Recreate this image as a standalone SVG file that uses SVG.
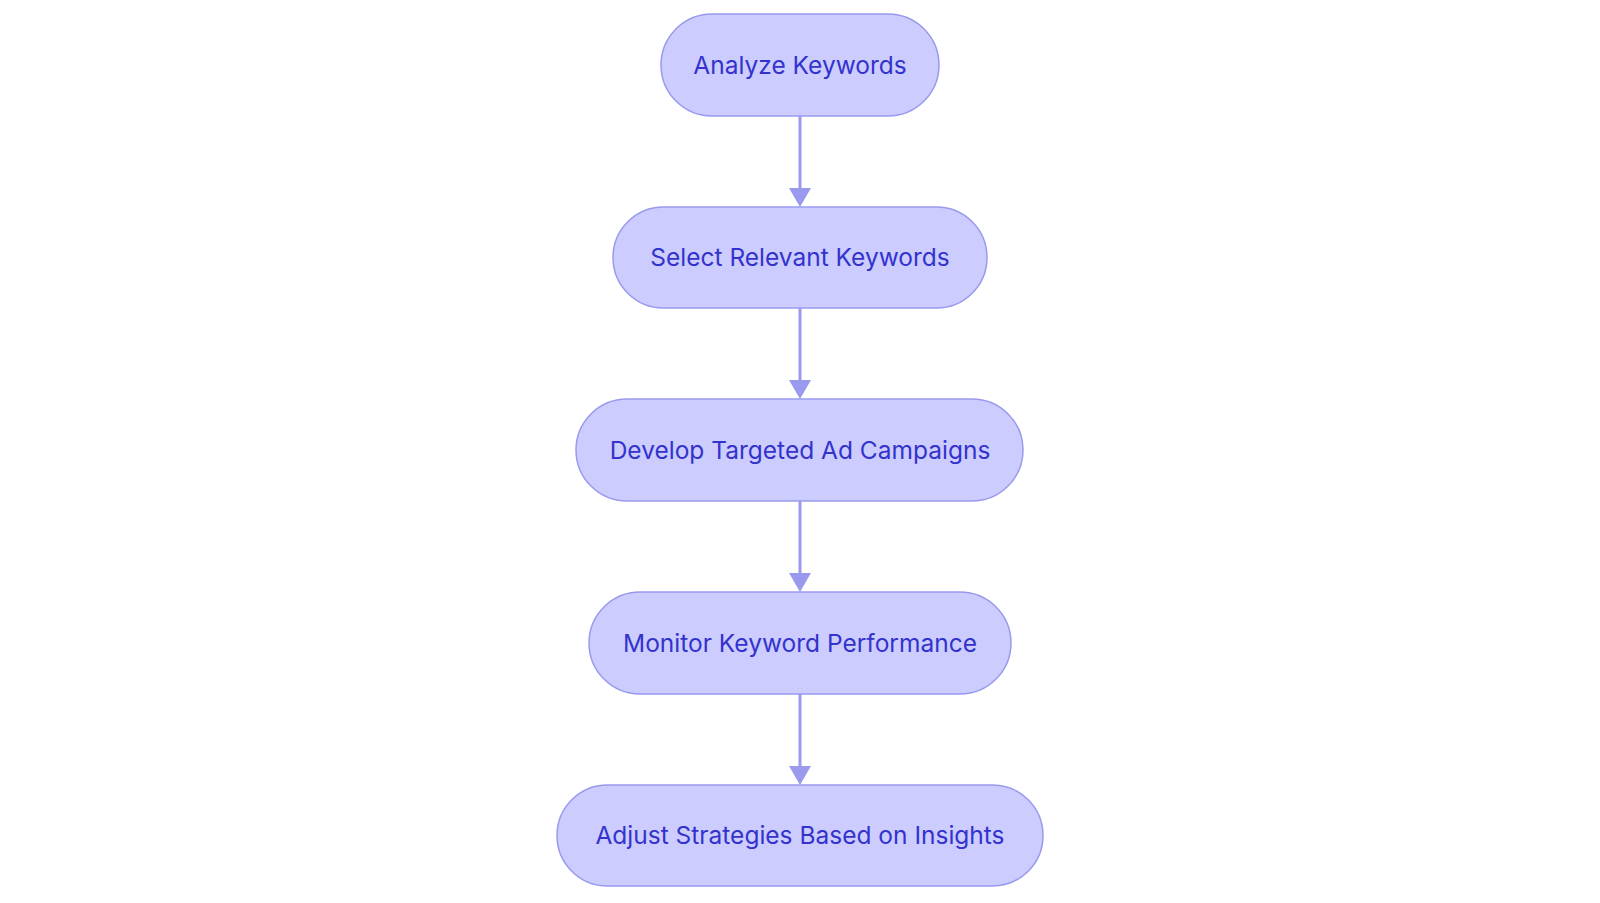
<svg xmlns="http://www.w3.org/2000/svg" width="1600" height="903" viewBox="0 0 1600 903">
<style>
.n rect{fill:#ccccff;stroke:#9999ee;stroke-width:1.5}
.n text{font-family:Inter,"Noto Sans",sans-serif;font-size:24.5px;fill:#3333cc;text-anchor:middle;dominant-baseline:central}
.c line{stroke:#9999ee;stroke-width:3}
.c path{fill:#9999ee}
</style>
<rect width="1600" height="903" fill="#fff"/>
<g class="c">
<line x1="800" y1="116" x2="800" y2="190"/><path d="M789,188L811,188L800,207z"/>
<line x1="800" y1="308" x2="800" y2="382"/><path d="M789,380L811,380L800,399z"/>
<line x1="800" y1="501" x2="800" y2="575"/><path d="M789,573L811,573L800,592z"/>
<line x1="800" y1="694" x2="800" y2="768"/><path d="M789,766L811,766L800,785z"/>
</g>
<g id="n1" class="n"><rect x="661" y="14" width="278" height="102" rx="51"/><text x="800" y="65">Analyze Keywords</text></g>
<g id="n2" class="n"><rect x="613" y="207" width="374" height="101" rx="50.5"/><text x="800" y="257">Select Relevant Keywords</text></g>
<g id="n3" class="n"><rect x="576" y="399" width="447" height="102" rx="51"/><text x="800" y="450">Develop Targeted Ad Campaigns</text></g>
<g id="n4" class="n"><rect x="589" y="592" width="422" height="102" rx="51"/><text x="800" y="643">Monitor Keyword Performance</text></g>
<g id="n5" class="n"><rect x="557" y="785" width="486" height="101" rx="50.5"/><text x="800" y="835">Adjust Strategies Based on Insights</text></g>
</svg>
